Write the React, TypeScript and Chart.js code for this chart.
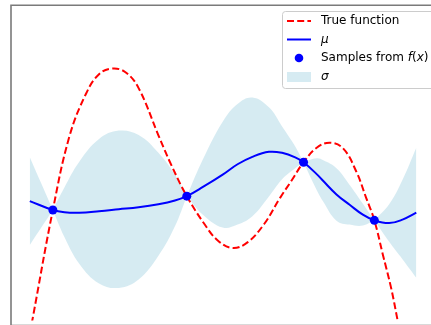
import { useEffect, useRef } from 'react';
import { Chart, registerables } from 'chart.js';

Chart.register(...registerables);

// ---- data ----
const trueX = [0.0, 0.069, 0.596, 1.023, 1.45, 1.79, 2.13, 2.473, 2.813, 3.325, 3.657, 4.059, 4.519, 4.859, 5.243, 5.627, 6.054, 6.471, 6.777, 7.077, 7.417, 7.757, 8.1, 8.44, 8.696, 8.908, 9.123, 9.335, 9.506, 9.616];
const trueY = [-4.339, -3.975, -1.199, 0.665, 1.743, 2.245, 2.387, 2.295, 1.893, 0.697, -0.055, -0.847, -1.56, -1.969, -2.162, -2.019, -1.56, -0.89, -0.439, 0.013, 0.381, 0.507, 0.364, -0.221, -0.89, -1.46, -2.312, -3.147, -3.982, -4.552];

const gridX = [0.0, 0.596, 0.895, 1.279, 1.79, 2.302, 2.813, 3.325, 3.752, 4.059, 4.476, 4.987, 5.371, 5.754, 6.182, 6.522, 6.862, 7.077, 7.417, 7.588, 7.928, 8.269, 8.611, 8.908, 9.291, 9.634, 9.992];
const muY = [-0.973, -1.199, -1.254, -1.266, -1.229, -1.179, -1.129, -1.053, -0.958, -0.847, -0.614, -0.301, -0.038, 0.15, 0.276, 0.251, 0.138, 0.013, -0.288, -0.464, -0.803, -1.066, -1.317, -1.46, -1.53, -1.442, -1.266];
const sigmaY = [1.111, 0.0, 0.627, 1.292, 1.831, 1.994, 1.831, 1.304, 0.652, 0.0, 0.702, 1.342, 1.53, 1.505, 1.129, 0.67, 0.276, 0.0, 0.401, 0.527, 0.665, 0.502, 0.276, 0.0, 0.476, 1.003, 1.648];

const sampleX = [0.596, 4.059, 7.077, 8.908];
const sampleY = [-1.199, -0.847, 0.013, -1.46];

const seriesLabels = ['True function', 'μ', 'Samples from f(x)', 'σ'];
// rich-text pieces for the legend: [text, italic]
const legendPieces: [string, boolean][][] = [
  [['True function', false]],
  [['μ', true]],
  [['Samples from ', false], ['f', true], ['(', false], ['x', true], [')', false]],
  [['σ', true]],
];

const X_MIN = -0.486;
const X_MAX = 10.256;
const Y_MIN = -4;
const Y_MAX = 4;

const RED = '#ff0000';
const BLUE = '#0000ff';
const BAND = 'rgba(173,216,230,0.5)';

const framePlugin = {
  id: 'mplFrame',
  afterDraw(chart: any) {
    const ctx = chart.ctx as CanvasRenderingContext2D;
    const area = chart.chartArea;
    ctx.save();
    // spines
    ctx.strokeStyle = '#d9d9d9';
    ctx.lineWidth = 1;
    ctx.beginPath();
    ctx.moveTo(area.left, 324.5);
    ctx.lineTo(431, 324.5);
    ctx.stroke();
    ctx.strokeStyle = '#7a7a7a';
    ctx.lineWidth = 1.6;
    ctx.beginPath();
    ctx.moveTo(11, 325);
    ctx.lineTo(11, 5.2);
    ctx.lineTo(431, 5.2);
    ctx.stroke();

    // legend box
    const bx = 282.5, by = 11.5, bw = 160, bh = 77, r = 3;
    ctx.beginPath();
    ctx.moveTo(bx + r, by);
    ctx.lineTo(bx + bw - r, by);
    ctx.quadraticCurveTo(bx + bw, by, bx + bw, by + r);
    ctx.lineTo(bx + bw, by + bh - r);
    ctx.quadraticCurveTo(bx + bw, by + bh, bx + bw - r, by + bh);
    ctx.lineTo(bx + r, by + bh);
    ctx.quadraticCurveTo(bx, by + bh, bx, by + bh - r);
    ctx.lineTo(bx, by + r);
    ctx.quadraticCurveTo(bx, by, bx + r, by);
    ctx.closePath();
    ctx.fillStyle = 'rgba(255,255,255,0.8)';
    ctx.fill();
    ctx.strokeStyle = '#cccccc';
    ctx.lineWidth = 1;
    ctx.stroke();

    const rows = [21, 39.5, 58, 77];
    const hx0 = 287, hx1 = 311;
    // handles
    ctx.lineWidth = 2;
    ctx.strokeStyle = RED;
    ctx.setLineDash([7, 3.2]);
    ctx.beginPath();
    ctx.moveTo(hx0, rows[0]);
    ctx.lineTo(hx1, rows[0]);
    ctx.stroke();
    ctx.setLineDash([]);
    ctx.strokeStyle = BLUE;
    ctx.beginPath();
    ctx.moveTo(hx0, rows[1]);
    ctx.lineTo(hx1, rows[1]);
    ctx.stroke();
    ctx.fillStyle = BLUE;
    ctx.beginPath();
    ctx.arc((hx0 + hx1) / 2, rows[2], 4.3, 0, Math.PI * 2);
    ctx.fill();
    ctx.fillStyle = BAND;
    ctx.fillRect(hx0, rows[3] - 5, hx1 - hx0, 10);

    // texts
    ctx.fillStyle = '#000000';
    ctx.textBaseline = 'middle';
    ctx.textAlign = 'left';
    legendPieces.forEach((pieces, i) => {
      let x = 321;
      pieces.forEach(([t, it]) => {
        ctx.font = (it ? 'italic ' : '') + '12px "DejaVu Sans"';
        ctx.fillText(t, x, rows[i]);
        x += ctx.measureText(t).width;
      });
    });
    ctx.restore();
  },
};

export default function App() {
  const ref = useRef<HTMLCanvasElement | null>(null);
  useEffect(() => {
    if (!ref.current) return;
    const pts = (xs: number[], ys: number[]) => xs.map((x, i) => ({ x, y: ys[i] }));

    // band split at the sample points (where sigma is 0) so the band pinches sharply
    const cuts: number[] = [0];
    sampleX.forEach((sx) => {
      const idx = gridX.findIndex((gx) => Math.abs(gx - sx) < 1e-6);
      if (idx > 0 && idx < gridX.length - 1) cuts.push(idx);
    });
    cuts.push(gridX.length - 1);
    const bandSets: any[] = [];
    for (let s = 0; s < cuts.length - 1; s++) {
      const a = cuts[s], b = cuts[s + 1];
      const up: { x: number; y: number }[] = [];
      const lo: { x: number; y: number }[] = [];
      for (let i = a; i <= b; i++) {
        up.push({ x: gridX[i], y: muY[i] + sigmaY[i] });
        lo.push({ x: gridX[i], y: muY[i] - sigmaY[i] });
      }
      bandSets.push({
        label: s === 0 ? seriesLabels[3] : '',
        data: up,
        borderWidth: 0,
        borderColor: 'rgba(0,0,0,0)',
        backgroundColor: BAND,
        pointRadius: 0,
        tension: 0.4,
        fill: '+1',
        order: 10,
      });
      bandSets.push({
        label: '',
        data: lo,
        borderWidth: 0,
        borderColor: 'rgba(0,0,0,0)',
        backgroundColor: BAND,
        pointRadius: 0,
        tension: 0.4,
        fill: false,
        order: 11,
      });
    }

    const chart = new Chart(ref.current, {
      type: 'line',
      data: {
        datasets: [
          {
            label: seriesLabels[0],
            data: pts(trueX, trueY),
            borderColor: RED,
            borderWidth: 2,
            borderDash: [7, 3.2],
            pointRadius: 0,
            tension: 0.4,
            fill: false,
            order: 3,
          },
          {
            label: seriesLabels[1],
            data: pts(gridX, muY),
            borderColor: BLUE,
            borderWidth: 2,
            pointRadius: 0,
            tension: 0.4,
            fill: false,
            order: 2,
          },
          {
            label: seriesLabels[2],
            data: pts(sampleX, sampleY),
            showLine: false,
            pointRadius: 4.5,
            pointBackgroundColor: BLUE,
            pointBorderWidth: 0,
            borderColor: BLUE,
            backgroundColor: BLUE,
            order: 1,
          },
          ...bandSets,
        ],
      },
      options: {
        animation: false,
        responsive: false,
        devicePixelRatio: 1,
        elements: { line: { capBezierPoints: false } },
        layout: { padding: { left: 11, top: 5, right: 0, bottom: 1 } },
        plugins: {
          legend: { display: false },
          tooltip: { enabled: false },
        },
        scales: {
          x: { type: 'linear', min: X_MIN, max: X_MAX, display: false },
          y: { type: 'linear', min: Y_MIN, max: Y_MAX, display: false },
        },
      },
      plugins: [framePlugin],
    } as any);
    return () => chart.destroy();
  }, []);
  return (
    <div style={{ position: 'absolute', left: 0, top: 0, width: 431, height: 325, background: '#fff' }}>
      <canvas ref={ref} width={431} height={325} style={{ display: 'block' }} />
    </div>
  );
}
